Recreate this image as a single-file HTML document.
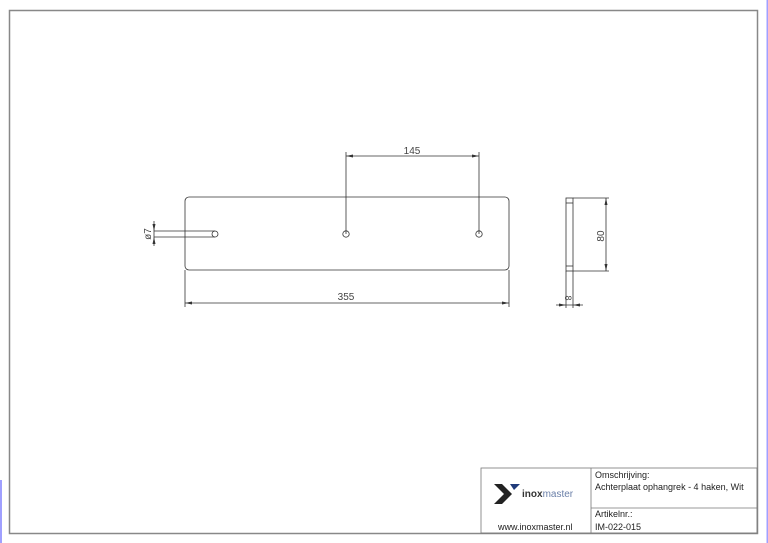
<!DOCTYPE html>
<html><head><meta charset="utf-8"><style>
body{margin:0;background:#fff;width:768px;height:543px;overflow:hidden}
svg{display:block}
text{font-family:"Liberation Sans",sans-serif}
</style></head><body>
<svg width="768" height="543" viewBox="0 0 768 543">
<rect x="0" y="480" width="2" height="63" fill="#a0a0ff"/>
<rect x="766.5" y="0" width="1.5" height="543" fill="#a0a0ff"/>
<rect x="9.5" y="10.5" width="748" height="523" fill="none" stroke="#888" stroke-width="1.5"/>
<g stroke="#333" stroke-width="0.8" fill="none">
<rect x="185" y="197" width="324" height="73" rx="4"/>
<circle cx="346" cy="234" r="3.2"/>
<circle cx="479" cy="234" r="3.2"/>
<circle cx="215" cy="234" r="3"/>
<line x1="154" y1="231" x2="215" y2="231"/>
<line x1="154" y1="237" x2="215" y2="237"/>
<line x1="154" y1="221" x2="154" y2="246"/>
<line x1="346" y1="152" x2="346" y2="234"/>
<line x1="479" y1="152" x2="479" y2="234"/>
<line x1="346" y1="156" x2="479" y2="156"/>
<line x1="185" y1="270" x2="185" y2="307"/>
<line x1="509" y1="270" x2="509" y2="307"/>
<line x1="185" y1="303" x2="509" y2="303"/>
<rect x="566" y="198" width="7" height="73"/>
<line x1="566" y1="203" x2="573" y2="203"/>
<line x1="566" y1="266" x2="573" y2="266"/>
<line x1="573" y1="198" x2="609" y2="198"/>
<line x1="573" y1="271" x2="609" y2="271"/>
<line x1="606" y1="198" x2="606" y2="271"/>
<line x1="566" y1="271" x2="566" y2="308"/>
<line x1="573" y1="271" x2="573" y2="308"/>
<line x1="556" y1="305" x2="583" y2="305"/>
</g>
<g fill="#333">
<polygon points="346,156 353,154.5 353,157.5"/><polygon points="479,156 472,154.5 472,157.5"/>
<polygon points="185,303 192,301.5 192,304.5"/><polygon points="509,303 502,301.5 502,304.5"/>
<polygon points="154,231 152.5,224 155.5,224"/><polygon points="154,237 152.5,244 155.5,244"/>
<polygon points="606,198 604.5,205 607.5,205"/><polygon points="606,271 604.5,264 607.5,264"/>
<polygon points="566,305 559,303.5 559,306.5"/><polygon points="573,305 580,303.5 580,306.5"/>
</g>
<g font-size="10" fill="#444">
<text x="412" y="154" text-anchor="middle">145</text>
<text x="346" y="300" text-anchor="middle">355</text>
<text transform="translate(151,234) rotate(-90)" text-anchor="middle">ø7</text>
<text transform="translate(604,236) rotate(-90)" text-anchor="middle">80</text>
<text transform="translate(565,298) rotate(90)" text-anchor="middle" font-size="9">8</text>
</g>
<g stroke="#777" stroke-width="0.8" fill="none">
<rect x="481" y="468" width="276" height="65"/>
<line x1="591" y1="468" x2="591" y2="533"/>
<line x1="591" y1="508" x2="757" y2="508"/>
</g>
<g fill="#222">
<polygon points="494,484 502,484 512,494 502,504 494,504 504,494"/>
</g>
<polygon points="510,484 520,484 514,490" fill="#1f3a7a"/>
<text x="522" y="497" font-size="10" font-weight="bold" fill="#333">inox<tspan font-weight="normal" fill="#6a7fa8">master</tspan></text>
<g font-size="9" fill="#222">
<text x="498" y="530">www.inoxmaster.nl</text>
<text x="595" y="478">Omschrijving:</text>
<text x="595" y="490">Achterplaat ophangrek - 4 haken, Wit</text>
<text x="595" y="517">Artikelnr.:</text>
<text x="595" y="530">IM-022-015</text>
</g>
</svg>
</body></html>
